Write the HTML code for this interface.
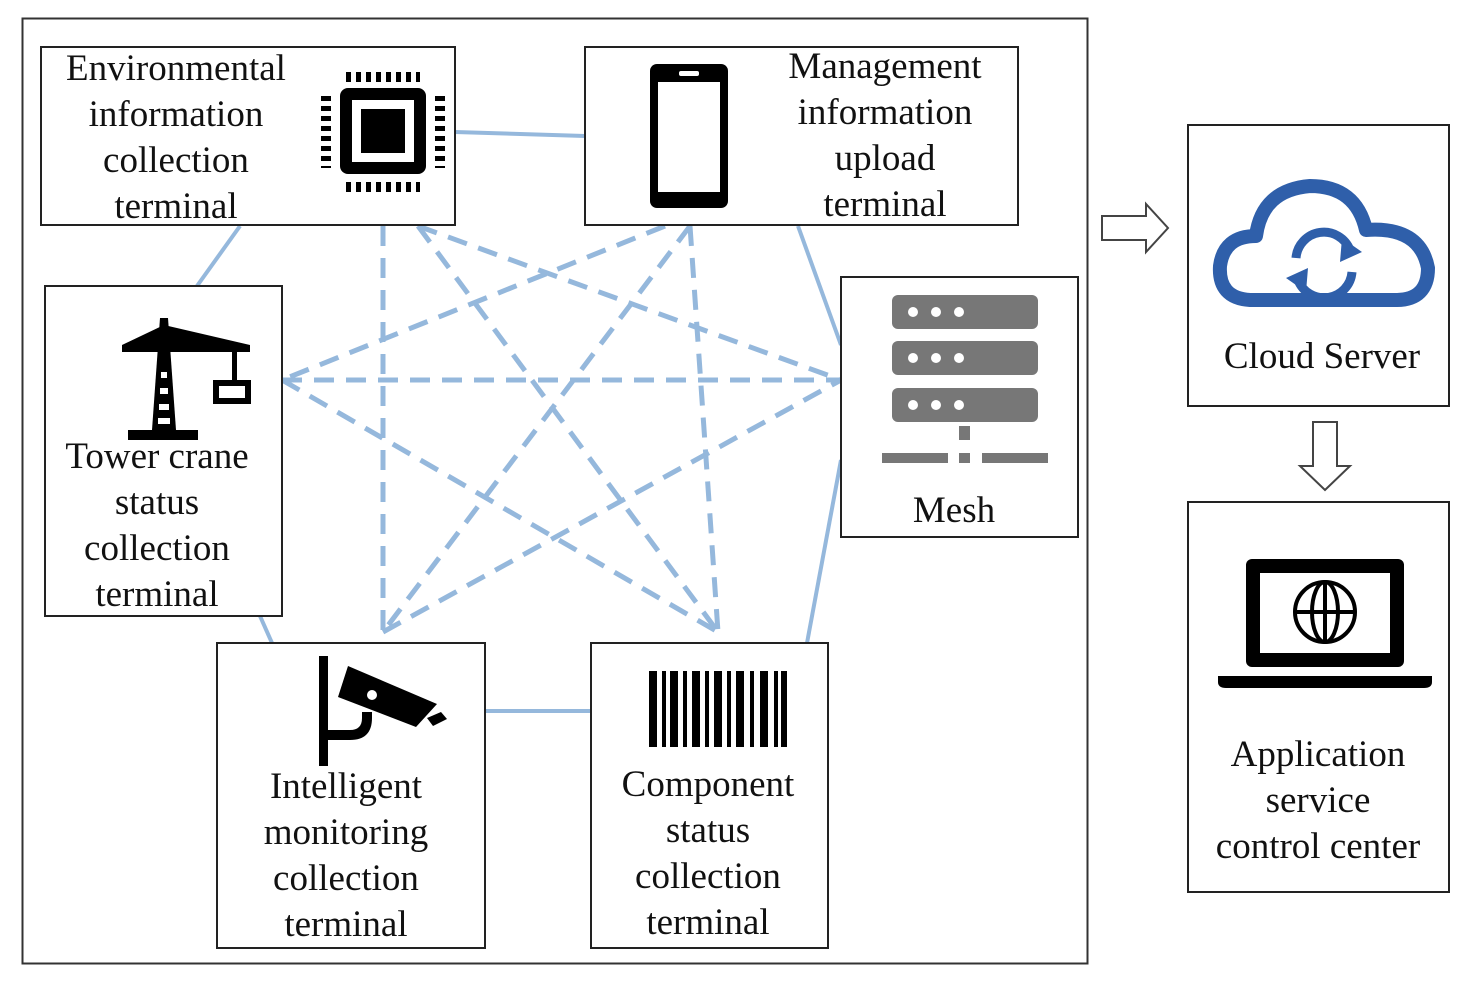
<!DOCTYPE html>
<html><head><meta charset="utf-8"><style>
html,body{margin:0;padding:0;background:#fff}
svg{display:block}
text{font-family:"Liberation Serif",serif;font-size:37px;fill:#111;text-anchor:middle}
</style></head><body>
<svg width="1470" height="983" viewBox="0 0 1470 983" xmlns="http://www.w3.org/2000/svg">
<rect x="22.5" y="18.5" width="1065" height="945" fill="none" stroke="#333" stroke-width="2"/>
<g stroke="#95b8dc" stroke-width="4" fill="none">
<line x1="455" y1="132" x2="585" y2="136"/>
<line x1="240" y1="226" x2="197" y2="286"/>
<line x1="798" y1="226" x2="841" y2="345"/>
<line x1="260" y1="616" x2="272" y2="643"/>
<line x1="485" y1="711" x2="591" y2="711"/>
<line x1="807" y1="643" x2="841" y2="460"/>
</g>
<g stroke="#95b8dc" stroke-width="5" fill="none" stroke-dasharray="20 12">
<line x1="383" y1="226" x2="383" y2="632"/>
<line x1="418" y1="226" x2="718" y2="632"/>
<line x1="418" y1="226" x2="841" y2="380"/>
<line x1="690" y1="226" x2="718" y2="632"/>
<line x1="690" y1="226" x2="383" y2="632"/>
<line x1="665" y1="226" x2="282" y2="380"/>
<line x1="282" y1="380" x2="841" y2="380"/>
<line x1="282" y1="380" x2="718" y2="632"/>
<line x1="383" y1="632" x2="841" y2="380"/>
</g>
<g fill="#fff" stroke="#222" stroke-width="2">
<rect x="41" y="47" width="414" height="178"/>
<rect x="585" y="47" width="433" height="178"/>
<rect x="45" y="286" width="237" height="330"/>
<rect x="841" y="277" width="237" height="260"/>
<rect x="217" y="643" width="268" height="305"/>
<rect x="591" y="643" width="237" height="305"/>
<rect x="1188" y="125" width="261" height="281"/>
<rect x="1188" y="502" width="261" height="390"/>
</g>
<text x="176" y="80">Environmental</text><text x="176" y="126">information</text><text x="176" y="172">collection</text><text x="176" y="218">terminal</text>
<text x="885" y="78">Management</text><text x="885" y="124">information</text><text x="885" y="170">upload</text><text x="885" y="216">terminal</text>
<text x="157" y="468">Tower crane</text><text x="157" y="514">status</text><text x="157" y="560">collection</text><text x="157" y="606">terminal</text>
<text x="954" y="522">Mesh</text>
<text x="346" y="798">Intelligent</text><text x="346" y="844">monitoring</text><text x="346" y="890">collection</text><text x="346" y="936">terminal</text>
<text x="708" y="796">Component</text><text x="708" y="842">status</text><text x="708" y="888">collection</text><text x="708" y="934">terminal</text>
<text x="1322" y="368">Cloud Server</text>
<text x="1318" y="766">Application</text><text x="1318" y="812">service</text><text x="1318" y="858">control center</text>
<rect x="340" y="88" width="86" height="86" rx="8" fill="#000"/>
<rect x="352" y="100" width="62" height="62" fill="#fff"/>
<rect x="361" y="109" width="44" height="44" fill="#000"/>
<g stroke="#000" stroke-width="10" stroke-dasharray="5 5">
<line x1="346" y1="77" x2="420" y2="77"/><line x1="346" y1="187" x2="420" y2="187"/>
<line x1="326" y1="96" x2="326" y2="168"/><line x1="440" y1="96" x2="440" y2="168"/>
</g>
<rect x="650" y="64" width="78" height="144" rx="7" fill="#000"/>
<rect x="658" y="82" width="62" height="110" fill="#fff"/>
<rect x="679" y="71" width="20" height="5" rx="2" fill="#fff"/>
<g fill="#000">
<polygon points="160,318 168,318 176,430 152,430"/>
<path d="M122,345 L164,325 L250,345 L250,352 L122,352 Z"/>
<rect x="128" y="430" width="70" height="10"/>
<rect x="232" y="350" width="5" height="30"/>
<rect x="213" y="380" width="38" height="24"/>
</g>
<rect x="219" y="386" width="26" height="12" fill="#fff"/>
<g fill="#fff"><rect x="161" y="372" width="6" height="6"/><rect x="160" y="388" width="8" height="6"/><rect x="159" y="404" width="10" height="6"/><rect x="158" y="418" width="12" height="6"/></g>
<g fill="#777">
<rect x="892" y="295" width="146" height="34" rx="6"/>
<rect x="892" y="341" width="146" height="34" rx="6"/>
<rect x="892" y="388" width="146" height="34" rx="6"/>
<rect x="959" y="426" width="11" height="14"/>
<rect x="882" y="453" width="66" height="10"/><rect x="959" y="453" width="11" height="10"/><rect x="982" y="453" width="66" height="10"/>
</g>
<g fill="#fff"><circle cx="913" cy="312" r="5"/><circle cx="936" cy="312" r="5"/><circle cx="959" cy="312" r="5"/>
<circle cx="913" cy="358" r="5"/><circle cx="936" cy="358" r="5"/><circle cx="959" cy="358" r="5"/>
<circle cx="913" cy="405" r="5"/><circle cx="936" cy="405" r="5"/><circle cx="959" cy="405" r="5"/></g>
<g fill="#000">
<rect x="319" y="656" width="9" height="110"/>
<path d="M328,740 L350,740 Q372,740 372,718 L372,712 L362,712 L362,718 Q362,730 350,730 L328,730 Z"/>
<polygon points="348,666 437,704 416,727 338,697"/>
<polygon points="427,718 441,712 447,719 433,726"/>
</g>
<circle cx="372" cy="695" r="5" fill="#fff"/>
<g fill="#000">
<rect x="649" y="671" width="8" height="76"/><rect x="662" y="671" width="4" height="76"/><rect x="670" y="671" width="8" height="76"/>
<rect x="683" y="671" width="4" height="76"/><rect x="692" y="671" width="8" height="76"/><rect x="705" y="671" width="4" height="76"/>
<rect x="714" y="671" width="8" height="76"/><rect x="727" y="671" width="4" height="76"/><rect x="736" y="671" width="8" height="76"/>
<rect x="750" y="671" width="4" height="76"/><rect x="760" y="671" width="8" height="76"/><rect x="774" y="671" width="4" height="76"/><rect x="781" y="671" width="6" height="76"/>
</g>
<path d="M1102,216 L1146,216 L1146,204 L1168,228 L1146,252 L1146,240 L1102,240 Z" fill="#fff" stroke="#444" stroke-width="2"/>
<path d="M1313,422 L1337,422 L1337,466 L1350,466 L1325,490 L1300,466 L1313,466 Z" fill="#fff" stroke="#444" stroke-width="2"/>
<path d="M1250,300 Q1218,298 1220,266 Q1224,236 1256,236 Q1262,190 1310,186 Q1356,186 1366,230 Q1420,226 1428,268 Q1428,300 1396,300 Z" fill="none" stroke="#2f5faa" stroke-width="14" stroke-linejoin="round"/>
<path d="M1296,258 A28,28 0 0 1 1350,250" fill="none" stroke="#2f5faa" stroke-width="9"/>
<polygon points="1342,238 1362,252 1340,262" fill="#2f5faa"/>
<path d="M1352,272 A28,28 0 0 1 1298,280" fill="none" stroke="#2f5faa" stroke-width="9"/>
<polygon points="1306,292 1286,278 1308,268" fill="#2f5faa"/>
<rect x="1246" y="559" width="158" height="108" rx="6" fill="#000"/>
<rect x="1260" y="573" width="130" height="80" fill="#fff"/>
<path d="M1218,676 L1432,676 L1432,682 Q1432,688 1424,688 L1226,688 Q1218,688 1218,682 Z" fill="#000"/>
<g fill="none" stroke="#000" stroke-width="4">
<circle cx="1325" cy="612" r="30"/><ellipse cx="1325" cy="612" rx="13" ry="30"/>
<line x1="1295" y1="612" x2="1355" y2="612"/><line x1="1325" y1="582" x2="1325" y2="642"/>
</g>
</svg>
</body></html>
